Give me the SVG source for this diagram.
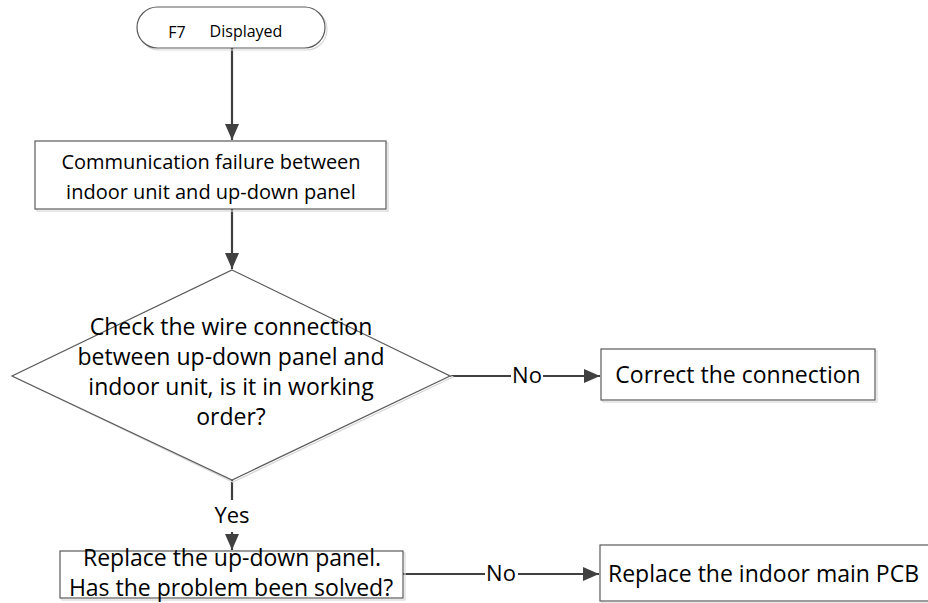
<svg xmlns="http://www.w3.org/2000/svg" width="928" height="603" viewBox="0 0 928 603">
<defs>
<marker id="ah" viewBox="0 0 16 14" refX="16" refY="7" markerWidth="16" markerHeight="14" markerUnits="userSpaceOnUse" orient="auto">
<path d="M0,0 L16,7 L0,14 Z" fill="#404040"/>
</marker>
</defs>
<style>
.shape{fill:#ffffff;stroke:#5a5a5a;stroke-width:1.2}
.shadow{fill:none;stroke:#d8d8d8;stroke-width:1.2}
.t{font-family:"Open Sans","Liberation Sans",sans-serif;font-size:23px;fill:#000000;text-anchor:middle}
.edge{fill:none;stroke:#404040;stroke-width:2.2}
.lbl{font-family:"Open Sans","Liberation Sans",sans-serif;font-size:22px;fill:#000000;text-anchor:middle}
</style>
<rect width="928" height="603" fill="#ffffff"/>
<g id="connectors">
<line class="edge" x1="232" y1="48" x2="232" y2="140" marker-end="url(#ah)"/>
<line class="edge" x1="232" y1="209" x2="232" y2="269" marker-end="url(#ah)"/>
<line class="edge" x1="450" y1="376" x2="511" y2="376"/>
<line class="edge" x1="543" y1="376" x2="600" y2="376" marker-end="url(#ah)"/>
<text class="lbl" x="527" y="383">No</text>
<line class="edge" x1="232" y1="480" x2="232" y2="500"/>
<text class="lbl" x="232" y="523">Yes</text>
<line class="edge" x1="232" y1="532" x2="232" y2="550" marker-end="url(#ah)"/>
<line class="edge" x1="403" y1="574" x2="485" y2="574"/>
<text class="lbl" x="501" y="581">No</text>
<line class="edge" x1="518" y1="574" x2="599" y2="574" marker-end="url(#ah)"/>
</g>
<g id="start">
<rect class="shadow" x="139" y="9" width="188" height="41" rx="20.5"/>
<rect class="shape" x="137" y="7" width="188" height="41" rx="20.5"/>
<text x="177" y="38" style="font-family:'Open Sans','Liberation Sans',sans-serif;font-size:16px" text-anchor="middle">F7</text>
<text x="246" y="37" style="font-family:'Open Sans','Liberation Sans',sans-serif;font-size:16px" text-anchor="middle">Displayed</text>
</g>
<g id="comm-failure">
<rect class="shadow" x="37" y="143" width="351" height="68"/>
<rect class="shape" x="35" y="141" width="351" height="68"/>
<text class="t" x="211" y="169" style="font-size:20px">Communication failure between</text>
<text class="t" x="211" y="199" style="font-size:20px">indoor unit and up-down panel</text>
</g>
<g id="check-wire">
<polygon class="shadow" points="233,273 453,377 233,482 14,377"/>
<polygon class="shape" points="232,270 450,376 232,480 12,376"/>
<text class="t" x="231" y="335">Check the wire connection</text>
<text class="t" x="231" y="365">between up-down panel and</text>
<text class="t" x="231" y="395">indoor unit, is it in working</text>
<text class="t" x="231" y="425">order?</text>
</g>
<g id="correct">
<rect class="shadow" x="603" y="351" width="274" height="51"/>
<rect class="shape" x="601" y="349" width="274" height="51"/>
<text class="t" x="738" y="383">Correct the connection</text>
</g>
<g id="replace-panel">
<rect class="shadow" x="62" y="553" width="343" height="47"/>
<rect class="shape" x="60" y="551" width="343" height="47"/>
<text class="t" x="232" y="566">Replace the up-down panel.</text>
<text class="t" x="231" y="596">Has the problem been solved?</text>
</g>
<g id="replace-pcb">
<rect class="shadow" x="602" y="547" width="340" height="56"/>
<rect class="shape" x="600" y="545" width="340" height="56"/>
<text x="608" y="582" style="font-family:'Open Sans','Liberation Sans',sans-serif;font-size:23px">Replace the indoor main PCB</text>
</g>
</svg>
